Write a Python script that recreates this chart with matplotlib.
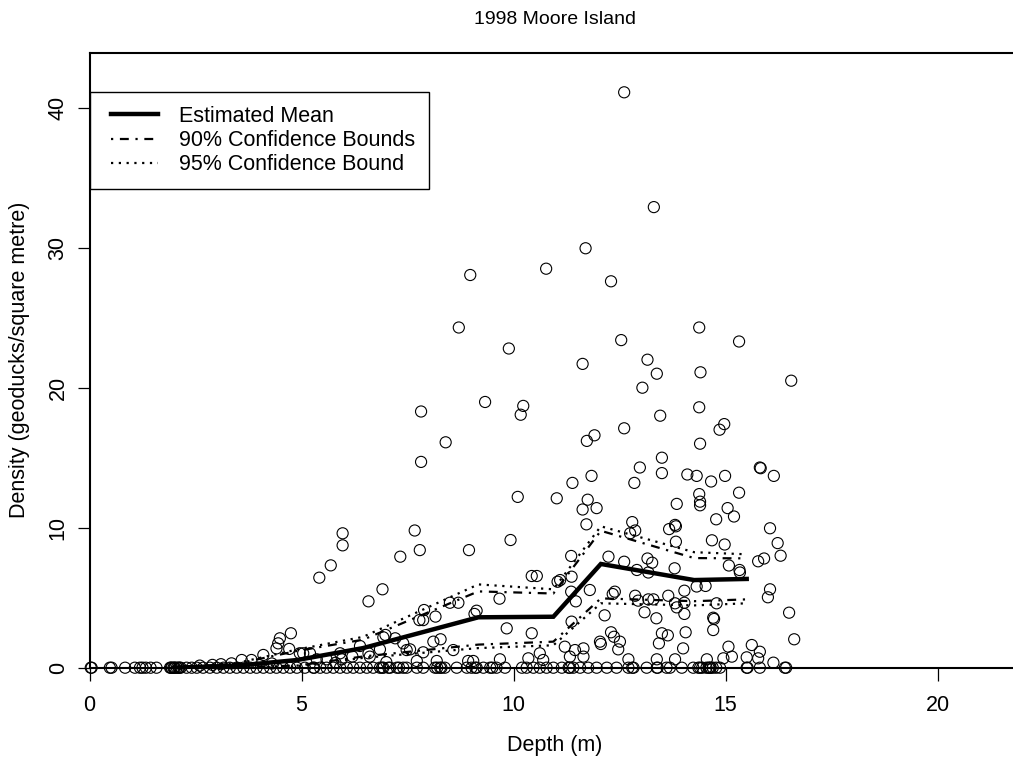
import matplotlib
matplotlib.use("Agg")
import matplotlib.pyplot as plt
from matplotlib.legend_handler import HandlerLine2D

plt.rcParams['font.family'] = ['Liberation Sans', 'DejaVu Sans']

title = "1998 Moore Island"
xlabel = "Depth (m)"
ylabel = "Density (geoducks/square metre)"
xticks = [0, 5, 10, 15, 20]
yticks = [0, 10, 20, 30, 40]

# non-zero observations
obs_depth = [12.61, 13.31, 11.70, 10.77, 8.98, 12.30, 8.71, 14.38, 9.89, 12.54, 15.32, 11.63, 13.16, 13.38,
             13.04, 14.41, 16.55, 9.33, 10.23, 10.17, 14.38, 7.82, 13.46, 12.61, 14.97, 14.86, 11.91, 11.73,
             14.40, 8.40, 7.82, 13.50, 13.50, 12.98, 12.85, 15.81, 15.83, 16.14, 14.10, 14.32, 14.66, 14.99,
             15.32, 11.39, 11.84, 11.02, 10.10, 11.75, 11.63, 11.96, 14.38, 14.40, 14.40, 13.85, 14.78, 15.05,
             15.20, 16.05, 16.23, 16.30, 15.77, 15.91, 11.72, 12.80, 12.75, 12.87, 13.67, 13.81, 13.83, 13.83,
             14.68, 14.98, 11.36, 12.24, 12.61, 13.16, 13.27, 12.91, 13.18, 13.80, 15.08, 15.33, 15.34, 11.04,
             11.10, 11.37, 14.32, 14.53, 14.03, 11.80, 11.36, 12.39, 12.34, 12.87, 12.94, 13.18, 13.30, 13.65,
             13.81, 13.85, 14.03, 14.79, 11.47, 12.15, 13.09, 13.37, 14.03, 14.71, 14.73, 14.71, 16.50, 16.62,
             16.05, 16.00, 11.37, 12.30, 12.37, 12.51, 13.50, 13.64, 14.06, 12.04, 12.06, 13.43, 11.21, 11.45,
             11.65, 12.47, 14.00, 15.07, 15.15, 14.95, 15.62, 15.81, 15.50, 15.77, 16.13, 12.71, 13.38, 13.81,
             14.56, 10.62, 10.70, 11.33, 11.65,
             7.79, 7.67, 7.33, 8.95, 9.93, 5.97, 5.97, 5.69, 5.42, 6.91, 6.58, 10.43, 10.55, 9.67, 7.89, 7.78,
             7.87, 8.16, 8.50, 8.70, 9.13, 9.08, 9.84, 10.43, 4.75, 4.71, 4.49, 6.38, 6.93, 6.98, 7.21, 7.40,
             8.11, 8.28, 7.87, 7.56, 6.85, 6.61, 8.58, 9.68, 10.35, 5.04, 5.20, 5.91, 7.72, 8.19, 8.93, 9.05,
             3.59, 3.82, 4.10, 4.45, 4.41, 4.96, 5.36, 5.59, 5.95, 6.58, 7.48, 3.35, 2.90, 3.10, 4.30, 2.60,
             6.20, 5.80, 7.00]
obs_density = [41.1, 32.9, 29.96, 28.5, 28.05, 27.6, 24.3, 24.3, 22.8, 23.4, 23.3, 21.7, 22.0, 21.0,
               20.0, 21.1, 20.5, 18.98, 18.7, 18.07, 18.6, 18.3, 18.0, 17.1, 17.4, 17.0, 16.6, 16.2,
               16.0, 16.1, 14.7, 15.0, 13.9, 14.3, 13.2, 14.3, 14.25, 13.7, 13.8, 13.7, 13.3, 13.7,
               12.5, 13.2, 13.7, 12.1, 12.2, 12.0, 11.3, 11.4, 12.4, 11.86, 11.6, 11.7, 10.6, 11.4,
               10.8, 9.96, 8.9, 8.0, 7.6, 7.8, 10.24, 10.4, 9.6, 9.8, 9.9, 10.2, 10.1, 9.0,
               9.1, 8.8, 7.98, 7.93, 7.57, 7.8, 7.5, 6.98, 6.8, 7.1, 7.3, 6.98, 6.8, 6.14,
               6.26, 6.5, 5.8, 5.84, 5.5, 5.55, 5.43, 5.43, 5.26, 5.14, 4.79, 4.88, 4.88, 5.14,
               4.6, 4.31, 4.64, 4.6, 4.74, 3.74, 3.96, 3.53, 3.84, 3.57, 3.48, 2.69, 3.93, 2.03,
               5.6, 5.03, 3.29, 2.53, 2.21, 1.86, 2.46, 2.31, 2.53, 1.86, 1.69, 1.74, 1.5, 1.26,
               1.38, 1.31, 1.38, 1.5, 0.79, 0.67, 1.62, 1.14, 0.74, 0.67, 0.36, 0.6, 0.6, 0.6,
               0.6, 1.03, 0.55, 0.79, 0.79,
               8.4, 9.8, 7.93, 8.4, 9.12, 9.6, 8.74, 7.31, 6.43, 5.6, 4.74, 6.55, 6.55, 4.93, 4.12, 3.4,
               3.4, 3.65, 4.64, 4.64, 4.07, 3.84, 2.81, 2.46, 2.46, 1.34, 2.1, 1.55, 2.17, 2.34, 2.1, 1.74,
               1.86, 2.03, 1.1, 1.31, 1.31, 0.79, 1.26, 0.6, 0.67, 1.03, 1.03, 1.03, 0.48, 0.48, 0.48, 0.48,
               0.55, 0.55, 0.91, 1.74, 1.38, 1.03, 0.6, 0.6, 0.6, 1.03, 1.26, 0.31, 0.2, 0.25, 0.3, 0.15,
               0.8, 0.35, 0.4]

# observations with zero density
zero_depth = [0.03, 0.05, 0.48, 0.52, 0.84, 1.07, 1.19, 1.25, 1.33, 1.44, 1.58, 1.90, 1.92, 1.94, 1.98,
              2.00, 2.02, 2.06, 2.10, 2.12, 2.15, 2.29, 2.41, 2.53, 2.68, 2.84, 3.00, 3.16, 3.31, 3.47,
              3.63, 3.79, 3.94, 4.10, 4.26, 4.41, 4.57, 4.73, 4.89, 5.08, 5.28, 5.30, 5.44, 5.59, 5.75,
              5.91, 6.07, 6.22, 6.38, 6.54, 6.69, 6.85, 6.90, 6.93, 7.05, 7.09, 7.25, 7.30, 7.40, 7.48,
              7.72, 7.87, 8.15, 8.20, 8.27, 8.30, 8.38, 8.66, 8.90, 9.01, 9.10, 9.13, 9.29, 9.45, 9.50,
              9.60, 9.80, 10.20, 10.31, 10.47, 10.62, 10.78, 10.94, 11.14, 11.30, 11.33, 11.41, 11.57,
              11.76, 11.96, 12.20, 12.43, 12.71, 12.80, 12.83, 13.14, 13.38, 13.40, 13.61, 13.69, 13.97,
              14.24, 14.36, 14.40, 14.45, 14.55, 14.60, 14.63, 14.65, 14.70, 14.78, 14.87, 15.50, 15.52,
              15.81, 16.40, 16.43]
zero_density = [0.0] * len(zero_depth)

# fitted mean and confidence bounds
fit_depth = [2.0, 3.5, 4.9, 6.45, 9.17, 10.94, 12.06, 14.26, 15.5]
mean_fit = [0.0, 0.15, 0.55, 1.4, 3.6, 3.64, 7.41, 6.26, 6.34]
upper90 = [0.0, 0.3, 1.2, 2.0, 5.45, 5.3, 9.78, 7.83, 7.81]
upper95 = [0.0, 0.35, 1.3, 2.2, 5.95, 5.6, 10.1, 8.25, 8.1]
lower90 = [0.0, 0.05, 0.15, 0.8, 1.65, 1.86, 4.95, 4.75, 4.88]
lower95 = [0.0, 0.0, 0.1, 0.7, 1.4, 1.6, 4.6, 4.45, 4.6]

FS = 15.5
W, H = 1013, 757
fig = plt.figure(figsize=(W / 100, H / 100), dpi=100)
left, right, top, bottom = 89.5, 1020.0, 52.7, 667.7
ax = fig.add_axes([left / W, (H - bottom) / H, (right - left) / W, (bottom - top) / H])

ax.scatter(obs_depth + zero_depth, obs_density + zero_density, s=64, facecolors='none',
           edgecolors='black', linewidths=0.8, clip_on=False, zorder=2)

dotdash = (0, (1, 3, 4, 3))
dotted = (0, (1, 2.5))
l1, = ax.plot(fit_depth, mean_fit, color='black', lw=3.2, solid_joinstyle='miter', zorder=3,
              label='Estimated Mean')
l2, = ax.plot(fit_depth, upper90, color='black', lw=1.6, linestyle=dotdash, zorder=3,
              label='90% Confidence Bounds')
ax.plot(fit_depth, lower90, color='black', lw=1.6, linestyle=dotdash, zorder=3)
l3, = ax.plot(fit_depth, upper95, color='black', lw=1.6, linestyle=dotted, zorder=3,
              label='95% Confidence Bound')
ax.plot(fit_depth, lower95, color='black', lw=1.6, linestyle=dotted, zorder=3)

ax.set_xlim(0, (right - left) / 42.4)
ax.set_ylim(0, (bottom - top) / 14.0)
ax.set_xticks(xticks)
ax.set_yticks(yticks)
ax.set_xticklabels([str(t) for t in xticks], fontsize=FS)
ax.set_yticklabels([str(t) for t in yticks], fontsize=FS, rotation=90, va='center')
ax.tick_params(axis='both', length=9, width=0.9, direction='out')
ax.tick_params(axis='x', pad=11)
ax.tick_params(axis='y', pad=6)

ax.spines['right'].set_visible(False)
for s in ['left', 'top', 'bottom']:
    ax.spines[s].set_linewidth(1.5)

ax.set_xlabel(xlabel, fontsize=FS, labelpad=13)
ax.set_ylabel(ylabel, fontsize=FS, labelpad=13)
ax.set_title(title, fontsize=14, pad=21)

hm = {l: HandlerLine2D(xpad=0.33) for l in (l1, l2, l3)}
leg = ax.legend(handles=[l1, l2, l3], handler_map=hm, loc='upper left',
                bbox_to_anchor=(0.0005, (bottom - 92) / (bottom - top)),
                fontsize=FS, frameon=True, fancybox=False, edgecolor='black', framealpha=1,
                handlelength=2.52, handletextpad=0.98, borderpad=0.65, labelspacing=0.15, borderaxespad=0)
leg.get_frame().set_linewidth(1.0)

fig.savefig("out.png", dpi=100)
